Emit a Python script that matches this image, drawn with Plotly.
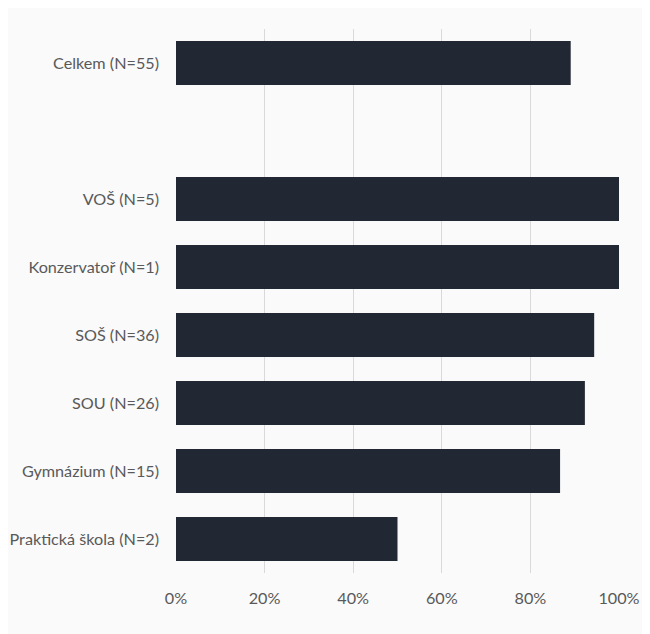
import plotly.graph_objects as go

categories = ["Celkem (N=55)", " ", "VOŠ (N=5)", "Konzervatoř (N=1)", "SOŠ (N=36)",
              "SOU (N=26)", "Gymnázium (N=15)", "Praktická škola (N=2)"]
values = [0.891, None, 1.0, 1.0, 0.944, 0.923, 0.867, 0.50]
tick_vals = [0, 0.2, 0.4, 0.6, 0.8, 1.0]
tick_text = ["0%", "20%", "40%", "60%", "80%", "100%"]

fig = go.Figure(go.Bar(
    x=values, y=categories, orientation="h",
    marker=dict(color="#222833", line=dict(width=0)),
    hoverinfo="x+y",
))

fig.update_layout(
    width=642, height=626,
    margin=dict(l=168, r=31, t=21, b=61),
    paper_bgcolor="#fafafa", plot_bgcolor="#fafafa",
    bargap=0.35,
    showlegend=False,
    font=dict(family="Lato, Open Sans, sans-serif", size=16.2, color="#595959"),
)
fig.update_xaxes(
    range=[0, 1.0], tickvals=tick_vals, ticktext=tick_text,
    showgrid=True, gridcolor="#d9d9d9", gridwidth=1,
    zeroline=False, showline=False, ticks="", ticklen=0,
    fixedrange=True, automargin=False, ticklabelstandoff=14,
)
fig.update_yaxes(
    type="category", categoryorder="array", categoryarray=categories,
    autorange="reversed", showgrid=False, zeroline=False, showline=False,
    ticks="", ticklabelstandoff=16, automargin=False,
)
fig.write_html("out.html")
